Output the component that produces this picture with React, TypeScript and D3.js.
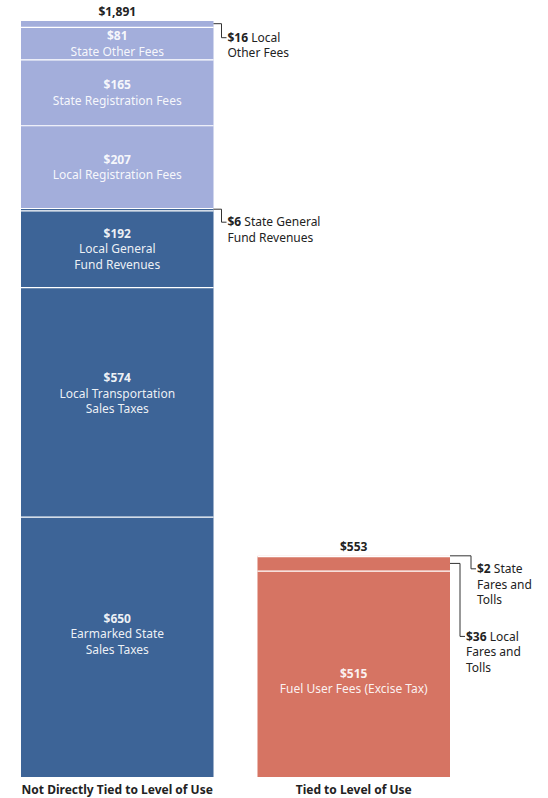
import { useEffect, useRef } from 'react';
import * as d3 from 'd3';

// bars, bottom-to-top stacks
const categories = ['Not Directly Tied to Level of Use', 'Tied to Level of Use'];

const leftValues = [650, 574, 192, 6, 207, 165, 81, 16];
const leftNames = [
  ['Earmarked State', 'Sales Taxes'],
  ['Local Transportation', 'Sales Taxes'],
  ['Local General', 'Fund Revenues'],
  ['State General', 'Fund Revenues'],
  ['Local Registration Fees'],
  ['State Registration Fees'],
  ['State Other Fees'],
  ['Local', 'Other Fees'],
];
const leftTypes = ['tax', 'tax', 'tax', 'tax', 'fee', 'fee', 'fee', 'fee'];

const rightValues = [515, 36, 2];
const rightNames = [
  ['Fuel User Fees (Excise Tax)'],
  ['Local', 'Fares and', 'Tolls'],
  ['State', 'Fares and', 'Tolls'],
];
const rightTypes = ['use', 'use', 'use'];

const colors: Record<string, string> = { tax: '#3d6497', fee: '#a3aedb', use: '#d67463' };

// segments too thin for inside labels -> bracket callouts
const calloutMax = 50;
// per-bar callout layout: [elbow offset, drop length]
const calloutLayout: Record<string, [number, number]> = {
  '0-3': [8, 13],
  '0-7': [8, 14],
  '1-1': [10, 73],
  '1-2': [21, 13],
};
// small vertical nudges of inside labels
const labelShift: Record<string, number> = { '0-0': -13, '0-1': -9, '1-0': 7 };

const W = 548;
const H = 798;
const FONT = '"Noto Sans", sans-serif';

const App = () => {
  const ref = useRef<SVGSVGElement>(null);

  useEffect(() => {
    const svg = d3.select(ref.current);
    svg.selectAll('*').remove();

    const bars = [
      { values: leftValues, names: leftNames, types: leftTypes },
      { values: rightValues, names: rightNames, types: rightTypes },
    ];

    const x = d3.scaleBand().domain(categories).range([21, 450]).paddingInner(0.186);
    const maxTotal = d3.max(bars, b => d3.sum(b.values)) as number;
    const y = d3.scaleLinear().domain([0, maxTotal]).range([777, 21]);
    const money = d3.format('$,');

    bars.forEach((bar, bi) => {
      const cat = categories[bi];
      const x0 = x(cat) as number;
      const bw = x.bandwidth();
      const g = svg.append('g');
      const total = d3.sum(bar.values);
      let cum = 0;
      const segs = bar.values.map((v, i) => {
        const s = { v, i, y0: cum, y1: cum + v };
        cum += v;
        return s;
      });

      g.selectAll('rect.seg')
        .data(segs)
        .enter()
        .append('rect')
        .attr('x', x0)
        .attr('width', bw)
        .attr('y', d => y(d.y1))
        .attr('height', d => y(d.y0) - y(d.y1))
        .attr('fill', d => colors[bar.types[d.i]]);

      // white separators
      g.selectAll('line.sep')
        .data(segs.slice(1))
        .enter()
        .append('line')
        .attr('x1', x0)
        .attr('x2', x0 + bw)
        .attr('y1', d => y(d.y0))
        .attr('y2', d => y(d.y0))
        .attr('stroke', '#fff')
        .attr('stroke-width', 1.2);

      segs.forEach(s => {
        const key = `${bi}-${s.i}`;
        const names = bar.names[s.i];
        if (s.v >= calloutMax) {
          const lines = [money(s.v), ...names];
          const mid = (y(s.y0) + y(s.y1)) / 2 + (labelShift[key] || 0);
          const lh = 15.5;
          const start = mid - ((lines.length - 1) * lh) / 2;
          lines.forEach((t, li) => {
            g.append('text')
              .attr('x', x0 + bw / 2)
              .attr('y', start + li * lh)
              .attr('dy', '0.35em')
              .attr('text-anchor', 'middle')
              .attr('fill', '#fff')
              .attr('fill-opacity', 0.92)
              .attr('font-family', FONT)
              .attr('font-size', 12)
              .attr('font-weight', li === 0 ? 700 : 400)
              .text(t);
          });
        } else {
          const [elbow, drop] = calloutLayout[key] || [8, 14];
          const xe = x0 + bw;
          const ys = (y(s.y0) + y(s.y1)) / 2 - 0.5;
          const ye = ys + drop;
          g.append('path')
            .attr('d', `M${xe},${ys}H${xe + elbow}V${ye}H${xe + elbow + 5}`)
            .attr('fill', 'none')
            .attr('stroke', '#333')
            .attr('stroke-width', 1);
          names.forEach((t, li) => {
            const txt = g.append('text')
              .attr('x', xe + elbow + 6)
              .attr('y', ye + li * 15.5)
              .attr('dy', '0.35em')
              .attr('fill', '#222')
              .attr('font-family', FONT)
              .attr('font-size', 12);
            if (li === 0) {
              txt.append('tspan').attr('font-weight', 700).text(money(s.v));
              txt.append('tspan').text(' ' + t);
            } else {
              txt.text(t);
            }
          });
        }
      });

      // total on top
      g.append('text')
        .attr('x', x0 + bw / 2)
        .attr('y', y(total) - 9)
        .attr('dy', '0.35em')
        .attr('text-anchor', 'middle')
        .attr('fill', '#222')
        .attr('font-family', FONT)
        .attr('font-size', 12)
        .attr('font-weight', 700)
        .text(money(total));

      // category label
      g.append('text')
        .attr('x', x0 + bw / 2)
        .attr('y', 790)
        .attr('dy', '0.35em')
        .attr('text-anchor', 'middle')
        .attr('fill', '#222')
        .attr('font-family', FONT)
        .attr('font-size', 12)
        .attr('font-weight', 700)
        .text(cat);
    });
  }, []);

  return (
    <svg
      ref={ref}
      width={W}
      height={H}
      style={{ position: 'absolute', left: 0, top: 0, background: '#fff' }}
    />
  );
};

export default App;
